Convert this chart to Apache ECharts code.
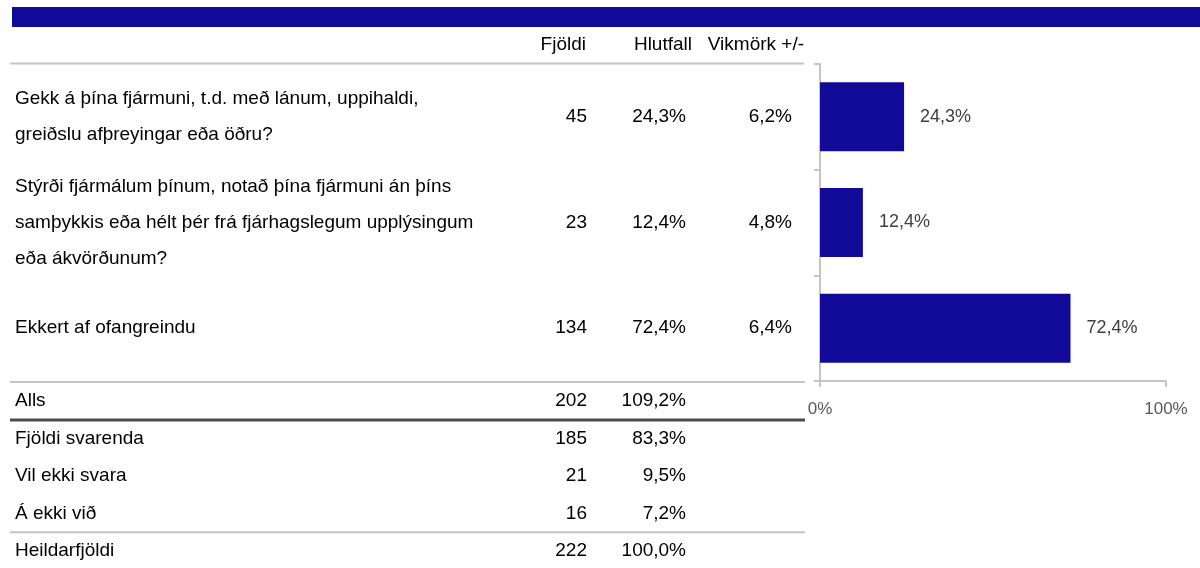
<!DOCTYPE html>
<html>
<head>
<meta charset="utf-8">
<script src="https://cdn.jsdelivr.net/npm/echarts@6/dist/echarts.min.js"></script>
<style>
  html, body { margin: 0; background: #fff; }
  #chart { width: 1200px; height: 568px; }
</style>
</head>
<body>
<div id="chart"></div>
<script>
// svarmöguleikar (línuskil eins og í fyrirmynd)
const questions = [
  'Gekk á þína fjármuni, t.d. með lánum, uppihaldi,\ngreiðslu afþreyingar eða öðru?',
  'Stýrði fjármálum þínum, notað þína fjármuni án þíns\nsamþykkis eða hélt þér frá fjárhagslegum upplýsingum\neða ákvörðunum?',
  'Ekkert af ofangreindu'
]
const counts = [45, 23, 134]
const shares = [24.3, 12.4, 72.4]
const margins = [6.2, 4.8, 6.4]

const headers = ['Fjöldi', 'Hlutfall', 'Vikmörk +/-']

const summaryLabels = ['Alls', 'Fjöldi svarenda', 'Vil ekki svara', 'Á ekki við', 'Heildarfjöldi']
const summaryCounts = [202, 185, 21, 16, 222]
const summaryShares = [109.2, 83.3, 9.5, 7.2, 100.0]

const xTicks = [0, 100]

const FONT = '"Liberation Sans", Arial, sans-serif'
const BLUE = '#120A99'
const LINE = '#c4c4c4'
const GRID = { left: 820, right: 34, top: 64, bottom: 187 }

const pct = (v) => v.toFixed(1).replace('.', ',') + '%'

const chart = echarts.init(document.getElementById('chart'))

chart.setOption({
  animation: false,
  backgroundColor: '#fff',
  grid: GRID,
  xAxis: {
    type: 'value',
    min: xTicks[0],
    max: xTicks[1],
    interval: xTicks[1] - xTicks[0],
    axisLine: { show: true, lineStyle: { color: LINE, width: 2 } },
    axisTick: { show: true, length: 6, lineStyle: { color: LINE, width: 2 } },
    splitLine: { show: false },
    axisLabel: {
      margin: 20,
      color: '#595959',
      fontSize: 17,
      fontFamily: FONT,
      formatter: '{value}%'
    }
  },
  yAxis: {
    type: 'category',
    inverse: true,
    data: questions,
    axisLine: { show: true, lineStyle: { color: LINE, width: 2 } },
    axisTick: { show: true, length: 6, lineStyle: { color: LINE, width: 2 } },
    axisLabel: {
      align: 'left',
      margin: 805,
      color: '#000',
      fontSize: 19,
      lineHeight: 36,
      fontFamily: FONT
    }
  },
  series: [{
    type: 'bar',
    data: shares,
    barWidth: 69,
    itemStyle: { color: BLUE },
    label: {
      show: true,
      position: 'right',
      distance: 16,
      color: '#404040',
      fontSize: 18,
      fontFamily: FONT,
      formatter: (p) => pct(p.value)
    }
  }]
})

function txt(text, x, y, align) {
  return {
    type: 'text',
    x, y,
    silent: true,
    style: {
      text,
      fill: '#000',
      font: '19px ' + FONT,
      textAlign: align,
      textVerticalAlign: 'middle',
      align,
      verticalAlign: 'middle'
    }
  }
}

function hline(x1, x2, y, color, width) {
  return {
    type: 'line',
    silent: true,
    shape: { x1, y1: y, x2, y2: y },
    style: { stroke: color, lineWidth: width }
  }
}

/* dálkar töflunnar, raðað eftir flokkaás */
const colCount = 587, colShare = 686, colMargin = 792
const els = []
els.push({ type: 'rect', silent: true, shape: { x: 12, y: 7, width: 1188, height: 20 }, style: { fill: BLUE } })
els.push(txt(headers[0], 586, 45, 'right'))
els.push(txt(headers[1], 692, 45, 'right'))
els.push(txt(headers[2], 804, 45, 'right'))
els.push(hline(10, 804, 63.5, LINE, 2))

questions.forEach((q, i) => {
  const y = chart.convertToPixel({ yAxisIndex: 0 }, i)
  els.push(txt(String(counts[i]), colCount, y, 'right'))
  els.push(txt(pct(shares[i]), colShare, y, 'right'))
  els.push(txt(pct(margins[i]), colMargin, y, 'right'))
})

// samantektartafla undir grafinu
const base = 568 - GRID.bottom
const rowH = 37.5
els.push(hline(10, 805, base + 1, LINE, 2))
summaryLabels.forEach((s, i) => {
  const y = base + 20 + i * rowH
  els.push(txt(s, 15, y, 'left'))
  els.push(txt(String(summaryCounts[i]), colCount, y, 'right'))
  els.push(txt(pct(summaryShares[i]), colShare, y, 'right'))
})
els.push(hline(10, 805, base + 39, '#454d53', 3))
els.push(hline(10, 805, base + 20 + 3.5 * rowH, LINE, 2))

chart.setOption({ graphic: els })
</script>
</body>
</html>
